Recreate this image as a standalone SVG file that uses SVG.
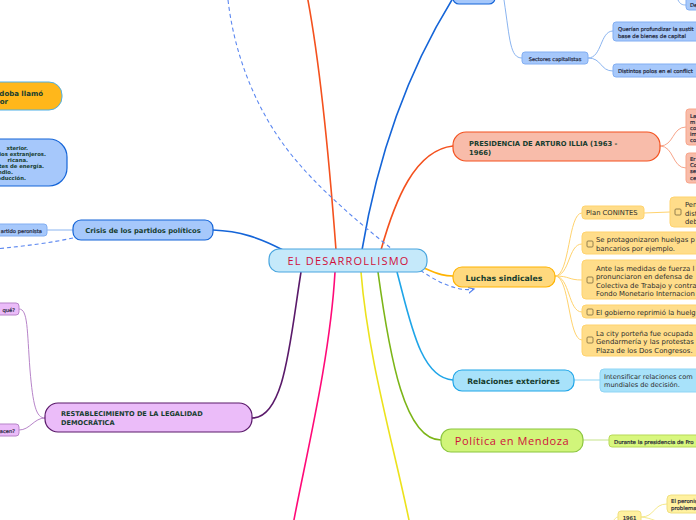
<svg xmlns="http://www.w3.org/2000/svg" width="696" height="520" viewBox="0 0 696 520">
<defs>
<style>
.c{fill:none;stroke-width:1.6}
.s{fill:none;stroke-width:1}
.b{font-family:"DejaVu Sans","Liberation Sans",sans-serif;font-weight:bold;fill:#163d2f}
.t{font-family:"DejaVu Sans","Liberation Sans",sans-serif;fill:#2d2d2d}
.tb{font-family:"DejaVu Sans","Liberation Sans",sans-serif;fill:#1f2638;stroke:#1f2638;stroke-width:0.2}
.r{font-family:"Open Sans","Liberation Sans",sans-serif;fill:#d0103a}
.cb{fill:none;stroke:#7a6a40;stroke-width:0.8}
</style>
<marker id="ar" markerWidth="8" markerHeight="8" refX="6" refY="4" orient="auto" markerUnits="userSpaceOnUse">
<path d="M0,1 L6,4 L0,7" fill="none" stroke="#5b87f0" stroke-width="1.2"/>
</marker>
</defs>
<rect width="696" height="520" fill="#ffffff"/>
<g id="connectors">
<path class="c" stroke="#1565d8" d="M362,250 C372,190 395,90 455,-5"/>
<path class="c" stroke="#f4511e" d="M336,250 C330,170 320,60 306,-10"/>
<path class="c" stroke="#f4511e" d="M381,250 C395,200 415,150 453,146"/>
<path class="c" stroke="#ffb300" d="M424,268 C440,275 445,276 453,276"/>
<path class="c" stroke="#1fa5e8" d="M397,272 C410,320 420,378 453,380"/>
<path class="c" stroke="#7cb518" d="M378,272 C390,360 405,440 441,440"/>
<path class="c" stroke="#ece21c" d="M361,272 C368,360 395,450 410,525"/>
<path class="c" stroke="#ff0a78" d="M335,272 C330,360 305,460 293,525"/>
<path class="c" stroke="#5a1a6a" d="M301,272 C290,340 285,418 252,418"/>
<path class="c" stroke="#1565d8" d="M283,250 C260,238 240,231 213,230"/>
<path fill="none" stroke="#5b87f0" stroke-width="1.1" stroke-dasharray="4,3" d="M228,0 C235,60 260,120 300,165 C330,200 385,245 420,270 C440,284 460,292 474,289" marker-end="url(#ar)"/>
<path fill="none" stroke="#5b87f0" stroke-width="1.1" stroke-dasharray="4,3" d="M73,238 C50,243 25,246 -5,249"/>
<path class="s" stroke="#8ab4f0" d="M504,0 C510,40 510,58 522,58"/>
<path class="s" stroke="#8ab4f0" d="M588,58 C602,58 600,31 613,31"/>
<path class="s" stroke="#8ab4f0" d="M588,58 C602,58 600,71 613,71"/>
<path class="s" stroke="#8ab4f0" d="M678,0 C680,4 682,5 686,5"/>
<path class="s" stroke="#f8a58a" d="M660,146 C674,146 672,127 686,127"/>
<path class="s" stroke="#f8a58a" d="M660,146 C674,146 672,168 686,168"/>
<path class="s" stroke="#ffd36e" d="M555,276 C570,276 568,213 582,213"/>
<path class="s" stroke="#ffd36e" d="M555,276 C570,276 568,244 582,244"/>
<path class="s" stroke="#ffd36e" d="M555,276 C570,276 568,280 582,280"/>
<path class="s" stroke="#ffd36e" d="M555,276 C570,276 568,312 582,312"/>
<path class="s" stroke="#ffd36e" d="M555,276 C570,276 568,340 582,340"/>
<path class="s" stroke="#ffd36e" d="M644,213 L670,212"/>
<path class="s" stroke="#8fd5f5" d="M574,380 L600,380"/>
<path class="s" stroke="#c5e38a" d="M583,440 L609,440"/>
<path class="s" stroke="#f5e98a" d="M641,517 C655,517 653,504 667,504"/>
<path class="s" stroke="#f5e98a" d="M641,517 C652,518 656,522 667,524"/>
<path class="s" stroke="#f5e98a" d="M612,522 C615,519 616,517 618,517"/>
<path class="s" stroke="#8ab4f0" d="M47,230 L73,230"/>
<path class="s" stroke="#b784c9" d="M19,309 C28,309 27,330 30,370 C33,405 36,418 45,418"/>
<path class="s" stroke="#b784c9" d="M19,430 C30,430 34,418 45,418"/>
</g>
<g id="center">
<rect x="269" y="249" width="158" height="23" rx="10" fill="#c5e9fa" stroke="#4aa6df" stroke-width="1.2"/>
<text class="r" x="348.5" y="264.5" font-size="11" text-anchor="middle" letter-spacing="1.2">EL DESARROLLISMO</text>
</g>
<g id="top-node">
<rect x="453" y="-12" width="42" height="16" rx="6" fill="#a6c8fb" stroke="#1565d8" stroke-width="1.2"/>
</g>
<g id="sectores">
<rect x="522" y="52" width="66" height="12" rx="3" fill="#a6c8fb" stroke="#82aef2"/>
<text class="tb" x="555" y="60.5" font-size="5.1" text-anchor="middle">Sectores capitalistas</text>
</g>
<g id="querian">
<rect x="613" y="22" width="90" height="19" rx="3" fill="#a6c8fb" stroke="#82aef2"/>
<text class="tb" x="618" y="30.5" font-size="5.3">Querían profundizar la sustit</text>
<text class="tb" x="618" y="37.5" font-size="5.3">base de bienes de capital</text>
</g>
<g id="distintos">
<rect x="613" y="64" width="90" height="13" rx="3" fill="#a6c8fb" stroke="#82aef2"/>
<text class="tb" x="618" y="72.8" font-size="5.3">Distintos polos en el conflict</text>
</g>
<g id="de">
<rect x="686" y="-4" width="20" height="14" rx="3" fill="#a6c8fb" stroke="#82aef2"/>
<text class="tb" x="690" y="7" font-size="5.3">De</text>
</g>
<g id="cordoba">
<rect x="-20" y="82" width="82" height="28" rx="13" fill="#ffb71b" stroke="#4db0e8" stroke-width="1"/>
<text class="b" x="43" y="95.5" font-size="7" text-anchor="end">rdoba llamó</text>
<text class="b" x="8" y="104" font-size="7" text-anchor="end">or</text>
</g>
<g id="bloque-azul">
<rect x="-20" y="139" width="87" height="47" rx="18" fill="#a6c8fb" stroke="#1565d8" stroke-width="1.2"/>
<text class="b" x="28" y="150" font-size="5.3" text-anchor="end">xterior.</text>
<text class="b" x="46" y="156" font-size="5.3" text-anchor="end">lios extranjeros.</text>
<text class="b" x="28" y="162" font-size="5.3" text-anchor="end">ricana.</text>
<text class="b" x="44" y="168" font-size="5.3" text-anchor="end">ntes de energía.</text>
<text class="b" x="13" y="174" font-size="5.3" text-anchor="end">ndio.</text>
<text class="b" x="26" y="180" font-size="5.3" text-anchor="end">roducción.</text>
</g>
<g id="crisis">
<rect x="73" y="220" width="140" height="20" rx="8" fill="#a6c8fb" stroke="#1565d8" stroke-width="1.2"/>
<text class="b" x="143" y="233" font-size="6.8" text-anchor="middle">Crisis de los partidos políticos</text>
</g>
<g id="peronista">
<rect x="-10" y="224" width="57" height="12" rx="3" fill="#a6c8fb" stroke="#82aef2"/>
<text class="tb" x="42" y="232.5" font-size="5.2" text-anchor="end">artido peronista</text>
</g>
<g id="restablecimiento">
<rect x="45" y="403" width="207" height="29" rx="13" fill="#ebbcf9" stroke="#5a1a6a" stroke-width="1.2"/>
<text class="b" x="61" y="415.5" font-size="6.6">RESTABLECIMIENTO DE LA LEGALIDAD</text>
<text class="b" x="61" y="424.5" font-size="6.6">DEMOCRÁTICA</text>
</g>
<g id="que">
<rect x="-10" y="303" width="29" height="12" rx="3" fill="#ebbcf9" stroke="#b784c9"/>
<text class="tb" x="15" y="311.5" font-size="5.2" text-anchor="end">qué?</text>
</g>
<g id="hacen">
<rect x="-10" y="424" width="29" height="12" rx="3" fill="#ebbcf9" stroke="#b784c9"/>
<text class="tb" x="15" y="432.5" font-size="5.2" text-anchor="end">acen?</text>
</g>
<g id="illia">
<rect x="453" y="132" width="207" height="29" rx="13" fill="#f8bcaa" stroke="#f4511e" stroke-width="1.2"/>
<text class="b" x="469" y="145.5" font-size="6.8">PRESIDENCIA DE ARTURO ILLIA (1963 -</text>
<text class="b" x="469" y="154.5" font-size="6.8">1966)</text>
</g>
<g id="illia-1">
<rect x="686" y="109" width="20" height="36" rx="3" fill="#f8bcaa" stroke="#f8a58a"/>
<text class="tb" x="690" y="118" font-size="5.3">La</text>
<text class="tb" x="690" y="124" font-size="5.3">m</text>
<text class="tb" x="690" y="130" font-size="5.3">co</text>
<text class="tb" x="690" y="136" font-size="5.3">im</text>
<text class="tb" x="690" y="142" font-size="5.3">co</text>
</g>
<g id="illia-2">
<rect x="686" y="153" width="20" height="30" rx="3" fill="#f8bcaa" stroke="#f8a58a"/>
<text class="tb" x="690" y="161" font-size="5.3">Er</text>
<text class="tb" x="690" y="167" font-size="5.3">Co</text>
<text class="tb" x="690" y="173" font-size="5.3">se</text>
<text class="tb" x="690" y="179.5" font-size="5.3">ce</text>
</g>
<g id="luchas">
<rect x="453" y="267" width="102" height="20" rx="9" fill="#ffd97e" stroke="#ffb300" stroke-width="1.2"/>
<text class="b" x="504" y="280.5" font-size="7.8" text-anchor="middle">Luchas sindicales</text>
</g>
<g id="conintes">
<rect x="582" y="206" width="62" height="13" rx="3" fill="#ffdd8a" stroke="#ffd36e"/>
<text class="t" x="586" y="215.3" font-size="6.8">Plan CONINTES</text>
</g>
<g id="pen">
<rect x="670" y="197" width="40" height="30" rx="4" fill="#ffdd8a" stroke="#ffd36e"/>
<rect class="cb" x="675" y="209" width="6" height="6" rx="1"/>
<text class="t" x="685" y="207" font-size="6.8">Pen</text>
<text class="t" x="685" y="215.5" font-size="6.8">dist</text>
<text class="t" x="685" y="224" font-size="6.8">deb</text>
</g>
<g id="huelgas">
<rect x="582" y="232" width="124" height="22" rx="4" fill="#ffdd8a" stroke="#ffd36e"/>
<rect class="cb" x="587" y="241" width="6" height="6" rx="1"/>
<text class="t" x="596" y="242" font-size="6.9">Se protagonizaron huelgas p</text>
<text class="t" x="596" y="251" font-size="6.9">bancarios por ejemplo.</text>
</g>
<g id="ante">
<rect x="582" y="260" width="124" height="39" rx="4" fill="#ffdd8a" stroke="#ffd36e"/>
<rect class="cb" x="587" y="277" width="6" height="6" rx="1"/>
<text class="t" x="596" y="270.5" font-size="6.9">Ante las medidas de fuerza l</text>
<text class="t" x="596" y="279" font-size="6.9">pronunciaron en defensa de</text>
<text class="t" x="596" y="287.5" font-size="6.9">Colectiva de Trabajo y contra</text>
<text class="t" x="596" y="296" font-size="6.9">Fondo Monetario Internacion</text>
</g>
<g id="reprimio">
<rect x="582" y="305" width="124" height="13" rx="4" fill="#ffdd8a" stroke="#ffd36e"/>
<rect class="cb" x="587" y="309" width="6" height="6" rx="1"/>
<text class="t" x="596" y="314.5" font-size="6.9">El gobierno reprimió la huelg</text>
</g>
<g id="city">
<rect x="582" y="325" width="124" height="31" rx="4" fill="#ffdd8a" stroke="#ffd36e"/>
<rect class="cb" x="587" y="337" width="6" height="6" rx="1"/>
<text class="t" x="596" y="335.5" font-size="6.9">La city porteña fue ocupada</text>
<text class="t" x="596" y="344" font-size="6.9">Gendarmería y las protestas</text>
<text class="t" x="596" y="352.5" font-size="6.9">Plaza de los Dos Congresos.</text>
</g>
<g id="relaciones">
<rect x="453" y="370" width="121" height="21" rx="9" fill="#a8e2fa" stroke="#1fa5e8" stroke-width="1.2"/>
<text class="b" x="513.5" y="383.5" font-size="7.6" text-anchor="middle">Relaciones exteriores</text>
</g>
<g id="intensificar">
<rect x="600" y="369" width="106" height="23" rx="4" fill="#a8e2fa" stroke="#8fd5f5"/>
<text class="t" x="604" y="378.5" font-size="6.6">Intensificar relaciones com</text>
<text class="t" x="604" y="386.5" font-size="6.6">mundiales de decisión.</text>
</g>
<g id="mendoza">
<rect x="441" y="429" width="142" height="23" rx="10" fill="#d1f57a" stroke="#8cc63f" stroke-width="1.2"/>
<text class="r" x="512" y="444.5" font-size="11" text-anchor="middle" letter-spacing="0.6">Política en Mendoza</text>
</g>
<g id="frondizi">
<rect x="609" y="435" width="97" height="12" rx="3" fill="#d8f77e" stroke="#b7d957"/>
<text class="tb" x="614" y="443.5" font-size="5.4">Durante la presidencia de Fro</text>
</g>
<g id="n1961">
<rect x="618" y="511" width="23" height="14" rx="3" fill="#fff1a0" stroke="#f0e080"/>
<text class="tb" x="629.5" y="519.5" font-size="5.4" text-anchor="middle">1961</text>
</g>
<g id="peronismo">
<rect x="667" y="495" width="40" height="18" rx="4" fill="#fff1a0" stroke="#f0e080"/>
<text class="tb" x="671" y="503" font-size="5.4">El peronis</text>
<text class="tb" x="671" y="510" font-size="5.4">problema</text>
</g>
</svg>
